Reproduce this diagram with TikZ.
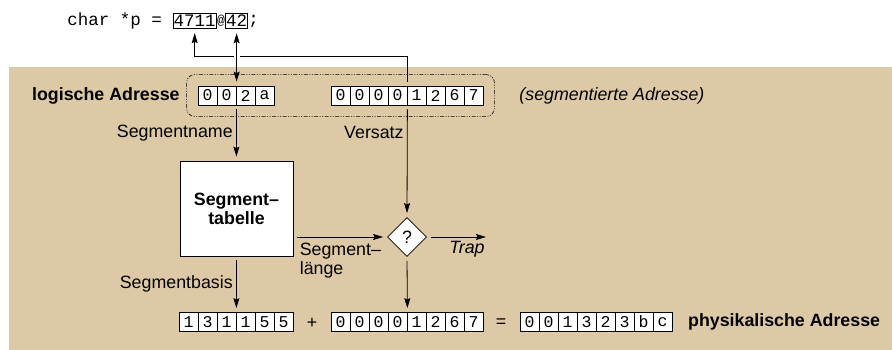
\documentclass[tikz,border=0pt]{standalone}
\usepackage{fontspec}
\setmainfont{Liberation Sans}
\setmonofont{Liberation Mono}
\usetikzlibrary{positioning,shapes.geometric,arrows.meta,fit}

\definecolor{tan}{RGB}{221,201,165}

\tikzset{
  cell/.style={draw, fill=white, minimum width=19pt, minimum height=19pt, inner sep=0pt, font=\ttfamily\fontsize{16.5}{16}\selectfont},
  conn/.style={-{Stealth[length=10pt,width=6pt,inset=1.5pt]}, shorten >=4pt, shorten <=4pt},
  lbl/.style={font=\fontsize{17.8}{19}\selectfont},
  code/.style={inner sep=0pt, font=\ttfamily\fontsize{17.5}{19}\selectfont},
}

% eine Reihe von Ziffernkaestchen
\newcommand{\cellrow}[4]{%
  \foreach \d [count=\i] in {#4} {
    \node[cell] (#1\i) at ({#2+(\i-0.5)*19},#3) {\d};
  }%
}

\begin{document}
\begin{tikzpicture}[x=1pt, y=-1pt, line width=0.8pt]
  \useasboundingbox (0,0) rectangle (892,350);
  \fill[tan] (9,67) rectangle (892,350);

  % Programmzeile
  \node[code, anchor=west] (code) at (67,21) {char *p =};
  \node[code, draw, right=10.5pt of code, inner xsep=0.5pt, inner ysep=2pt] (seg) {4711};
  \node[code, right=0pt of seg, font=\ttfamily\fontsize{13}{13}\selectfont] (atsign) {@};
  \node[code, draw, right=0pt of atsign, inner xsep=0.5pt, inner ysep=2pt] (ofs) {42};
  \node[code, right=0pt of ofs] (semi) {;};

  % logische Adresse
  \cellrow{la}{198}{95.5}{0,0,2,a}
  \cellrow{vs}{331}{95.5}{0,0,0,0,1,2,6,7}
  \node[fit=(la1)(vs8), inner xsep=11pt, inner ysep=11pt, draw, rounded corners=8pt,
        line width=0.6pt, dash pattern=on 4pt off 1.5pt on 1pt off 1.5pt on 1pt off 1.5pt] (logbox) {};
  \node[lbl, font=\bfseries\fontsize{17.8}{19}\selectfont, left=3pt of logbox] (logtxt) {logische Adresse};
  \node[lbl, font=\itshape\fontsize{17.8}{19}\selectfont, right=21pt of logbox] (segtxt) {(segmentierte Adresse)};

  % Segmenttabelle und Pruefung
  \node[draw, fill=white, minimum width=113pt, minimum height=95pt, align=center,
        font=\bfseries\fontsize{17.8}{19}\selectfont] (table) at (236.5,208.5) {Segment–\\tabelle};
  \node[draw, fill=white, diamond, aspect=1, minimum size=39pt, inner sep=0pt, lbl] (check) at (407,237) {?};
  \coordinate (trap) at (486,237);

  % physikalische Adresse
  \cellrow{ba}{179}{322}{1,3,1,1,5,5}
  \node[lbl] (plus) at (312,323) {+};
  \cellrow{ad}{331}{322}{0,0,0,0,1,2,6,7}
  \node[lbl] (equal) at (501,323) {=};
  \cellrow{ph}{520}{322}{0,0,1,3,2,3,b,c}
  \node[lbl, font=\bfseries\fontsize{17.8}{19}\selectfont, right=12pt of ph8] (phystxt) {physikalische Adresse};

  % Pfeile
  \coordinate (turn) at (0,56);
  \draw[conn] (vs4.north east) -- (vs4.north east |- turn) -- (seg.south |- turn) -- (seg.south);
  \draw[white, line width=6pt] ([yshift=-3pt]ofs.south |- turn) -- ([yshift=3pt]ofs.south |- turn);
  \draw[conn, {Stealth[length=10pt,width=6pt,inset=1.5pt]}-{Stealth[length=10pt,width=6pt,inset=1.5pt]}]
    (ofs.south) -- (ofs.south |- la2.north east);

  \draw[conn] (la2.south east) -- (la2.south east |- table.north)
    node[lbl, midway, left] {Segmentname};
  \draw[conn] (vs4.south east) -- (check.north)
    node[lbl, pos=0.24, left] {Versatz};
  \draw[conn] (table.east |- check.west) -- (check.west)
    node[lbl, at start, anchor=north west, align=left, inner sep=2pt, xshift=4pt, yshift=-4pt] {Segment–\\länge};
  \draw[conn, shorten >=0pt] (check.east) -- (trap)
    node[lbl, font=\itshape\fontsize{17.8}{19}\selectfont, anchor=north east, inner sep=1pt, yshift=-3pt] {Trap};
  \draw[conn] (ba3.north east |- table.south) -- (ba3.north east)
    node[lbl, midway, left] {Segmentbasis};
  \draw[conn] (check.south) -- (ad4.north east);
\end{tikzpicture}
\end{document}
